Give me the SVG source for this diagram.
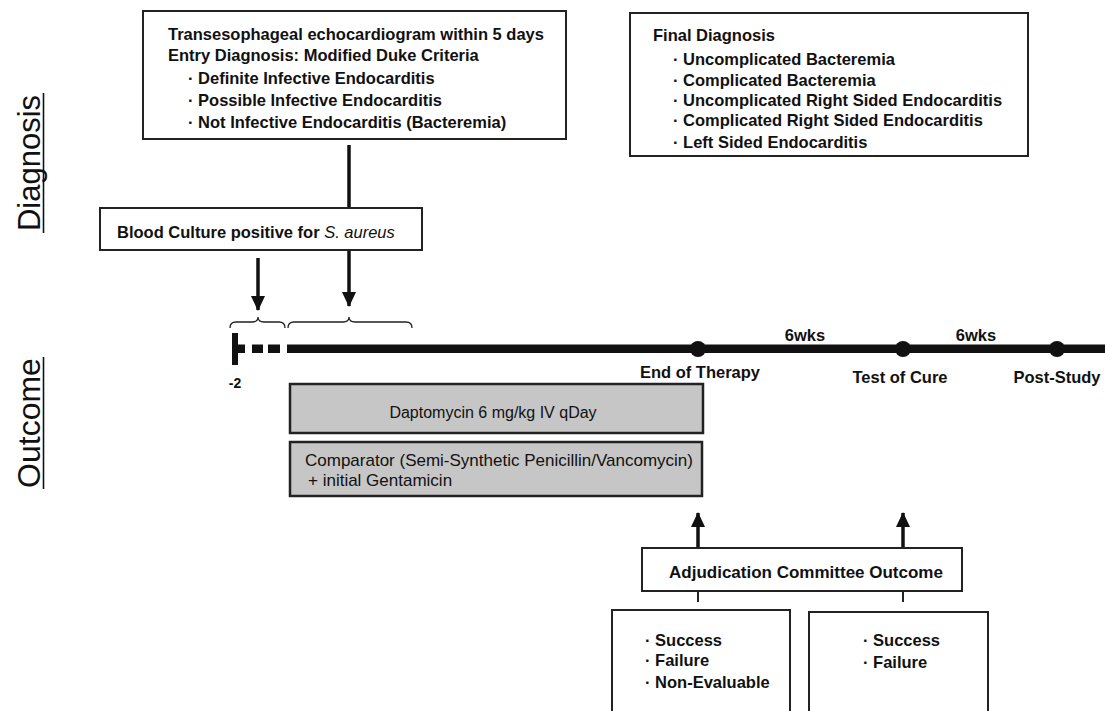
<svg xmlns="http://www.w3.org/2000/svg" width="1105" height="711" viewBox="0 0 1105 711">
<style>
text{font-family:"Liberation Sans",Arial,sans-serif;fill:#111}
.b{font-weight:bold;font-size:16.5px}
.r{font-size:16px}
.box{fill:#fff;stroke:#222;stroke-width:2}
.gbox{fill:#c6c6c6;stroke:#222;stroke-width:2.5}
.ln{stroke:#111;stroke-width:3.5;fill:none}
.thin{stroke:#222;stroke-width:1.3;fill:none}
.side{font-size:31px}
</style>
<defs>
<marker id="ah" markerUnits="userSpaceOnUse" markerWidth="16" markerHeight="16" viewBox="0 0 16 16" refX="14" refY="8" orient="auto">
<path d="M0,1 L15,8 L0,15 Z" fill="#111"/>
</marker>
</defs>

<g id="side-labels">
<text class="side" transform="rotate(-90 40 163)" x="40" y="163" text-anchor="middle">Diagnosis</text>
<line x1="43.5" y1="93" x2="43.5" y2="233" stroke="#111" stroke-width="1.6"/>
<text class="side" style="font-size:32px" transform="rotate(-90 40 423)" x="40" y="423" text-anchor="middle">Outcome</text>
<line x1="43.5" y1="357" x2="43.5" y2="489" stroke="#111" stroke-width="1.6"/>
</g>

<g id="connectors">
<line class="ln" x1="349" y1="145" x2="349" y2="208"/>
<line class="ln" x1="349" y1="250" x2="349" y2="306" marker-end="url(#ah)"/>
<line class="ln" x1="258" y1="258" x2="258" y2="310" marker-end="url(#ah)"/>
<path class="thin" d="M230,328 Q230,322 236,322 L252,322 Q258,322 258,317 Q258,322 264,322 L279,322 Q285,322 285,328"/>
<path class="thin" d="M288,328 Q288,322 294,322 L343,322 Q349,322 349,317 Q349,322 355,322 L406,322 Q412,322 412,328"/>
<line class="ln" x1="698" y1="548" x2="698" y2="513" marker-end="url(#ah)"/>
<line class="ln" x1="903" y1="548" x2="903" y2="513" marker-end="url(#ah)"/>
<line stroke="#222" stroke-width="2" x1="698" y1="591" x2="698" y2="602"/>
<line stroke="#222" stroke-width="2" x1="903" y1="591" x2="903" y2="602"/>
</g>

<g id="timeline">
<rect x="232" y="333" width="6" height="32" fill="#111"/>
<rect x="238" y="344.5" width="7" height="8.5" fill="#111"/>
<rect x="252" y="344.5" width="11" height="8.5" fill="#111"/>
<rect x="268" y="344.5" width="12" height="8.5" fill="#111"/>
<rect x="287" y="344.5" width="818" height="8.5" fill="#111"/>
<circle cx="698" cy="349" r="8" fill="#111"/>
<circle cx="903" cy="349" r="8" fill="#111"/>
<circle cx="1057" cy="349" r="8" fill="#111"/>
<text class="b" style="font-size:14px" x="235" y="388" text-anchor="middle">-2</text>
<text class="b" x="805" y="341" text-anchor="middle">6wks</text>
<text class="b" x="976" y="341" text-anchor="middle">6wks</text>
<text class="b" x="700" y="378" text-anchor="middle">End of Therapy</text>
<text class="b" x="900" y="383" text-anchor="middle">Test of Cure</text>
<text class="b" x="1057" y="383" text-anchor="middle">Post-Study</text>
</g>

<g id="tee-box">
<rect class="box" x="143" y="11" width="423" height="128"/>
<text class="b" x="168" y="40">Transesophageal echocardiogram within 5 days</text>
<text class="b" x="168" y="61">Entry Diagnosis: Modified Duke Criteria</text>
<text class="b" x="188" y="84">· Definite Infective Endocarditis</text>
<text class="b" x="188" y="106">· Possible Infective Endocarditis</text>
<text class="b" x="188" y="128">· Not Infective Endocarditis (Bacteremia)</text>
</g>

<g id="final-diagnosis">
<rect class="box" x="630" y="13" width="398" height="143"/>
<text class="b" x="653" y="41">Final Diagnosis</text>
<text class="b" x="673" y="65">· Uncomplicated Bacteremia</text>
<text class="b" x="673" y="86">· Complicated Bacteremia</text>
<text class="b" x="673" y="106">· Uncomplicated Right Sided Endocarditis</text>
<text class="b" x="673" y="126">· Complicated Right Sided Endocarditis</text>
<text class="b" x="673" y="148">· Left Sided Endocarditis</text>
</g>

<g id="blood-culture">
<rect class="box" x="100" y="208" width="322" height="42"/>
<text class="b" x="117" y="238">Blood Culture positive for <tspan style="font-weight:normal;font-style:italic">S. aureus</tspan></text>
</g>

<g id="daptomycin">
<rect class="gbox" x="290" y="384" width="413" height="49"/>
<text class="r" x="493" y="418" text-anchor="middle">Daptomycin 6 mg/kg IV qDay</text>
</g>

<g id="comparator">
<rect class="gbox" x="290" y="442" width="412" height="54"/>
<text class="r" style="font-size:17px" x="305" y="466">Comparator (Semi-Synthetic Penicillin/Vancomycin)</text>
<text class="r" style="font-size:17px" x="308" y="486">+ initial Gentamicin</text>
</g>

<g id="adjudication">
<rect class="box" x="642" y="548" width="320" height="43"/>
<text class="b" style="font-size:17px" x="806" y="578" text-anchor="middle">Adjudication Committee Outcome</text>
</g>

<g id="eot-outcomes">
<path class="box" d="M612,712 V610 H790 V712"/>
<text class="b" x="645" y="646">· Success</text>
<text class="b" x="645" y="666">· Failure</text>
<text class="b" x="645" y="688">· Non-Evaluable</text>
</g>

<g id="toc-outcomes">
<path class="box" d="M809,712 V612 H988 V712"/>
<text class="b" x="863" y="646">· Success</text>
<text class="b" x="863" y="668">· Failure</text>
</g>
</svg>
